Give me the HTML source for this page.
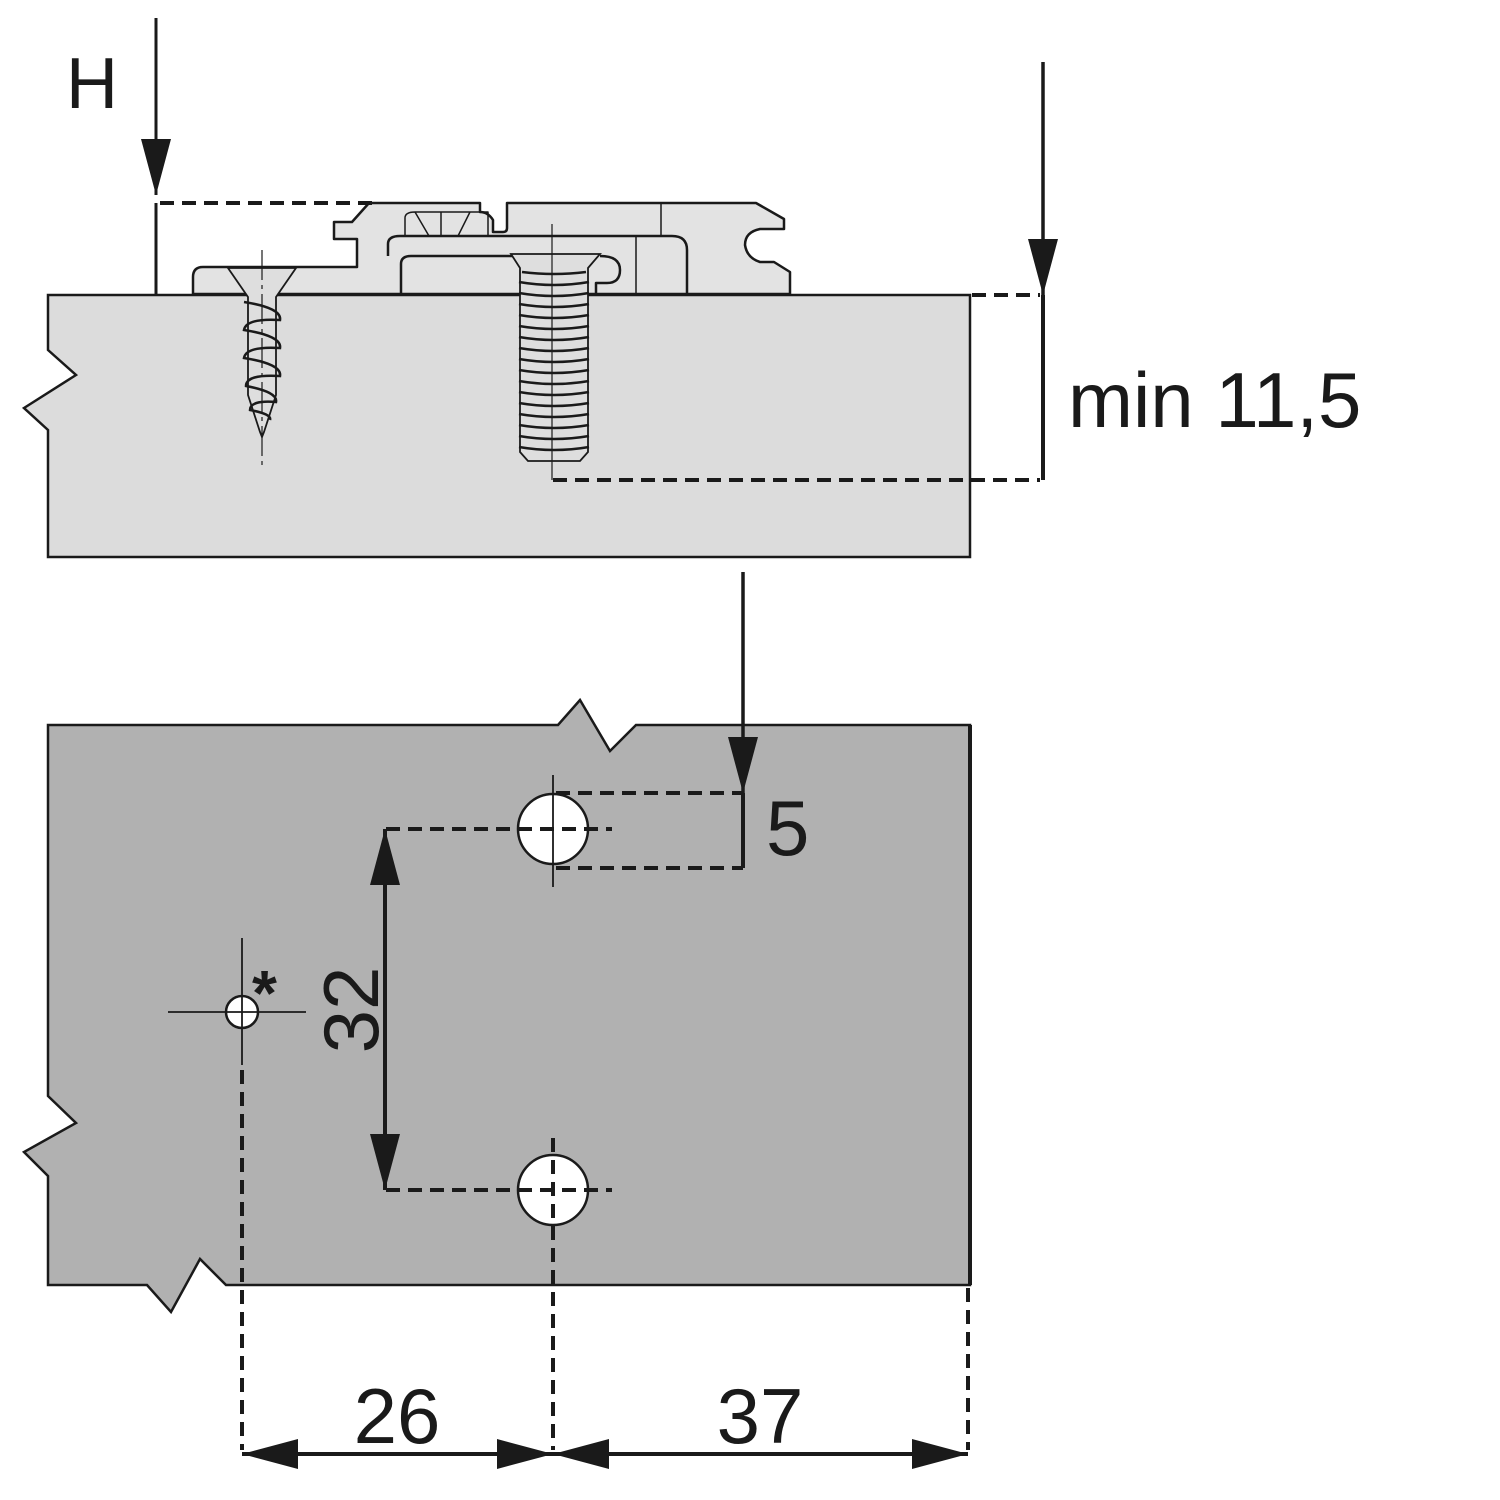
<!DOCTYPE html>
<html><head><meta charset="utf-8"><style>html,body{margin:0;padding:0;background:#fff}svg{display:block}</style></head>
<body>
<svg width="1500" height="1500" viewBox="0 0 1500 1500" xmlns="http://www.w3.org/2000/svg" font-family="Liberation Sans, Arial, sans-serif">
<defs>
<marker id="ah" viewBox="0 0 56 30" refX="56" refY="15" markerWidth="56" markerHeight="30" markerUnits="userSpaceOnUse" orient="auto"><path d="M0,0 L56,15 L0,30 Z" fill="#1a1a1a"/></marker>
</defs>
<path d="M48,295 L970,295 L970,557 L48,557 L48,430 L24,408 L76,375 L48,350 Z" fill="#dcdcdc" stroke="#1a1a1a" stroke-width="2.5"/>
<g fill="#e3e3e3" stroke="#1a1a1a" stroke-width="2.5" stroke-linejoin="round">
<path d="M193,294 L193,277 Q193,267 203,267 L357,267 L357,239 L334,239 L334,222 L352,222 L369,203 L480,203 L480,212 Q488,212 493,220 L493,232 L503,232 Q507,232 507,228 L507,203 L756,203 L784,219 L784,229 L760,229 Q745,232 745,245 Q747,258 760,262 L774,262 L790,272 L790,294 Z"/>
<path d="M401,294 L401,264 Q401,256 411,256 L520,256" fill="none"/>
<path d="M388,256 L388,244 Q388,236 400,236 L672,236 Q687,236 687,250 L687,294" fill="none"/>
<path d="M600,256 Q620,256 620,270 Q620,283 607,283 L596,283 L596,294" fill="none"/>
<path d="M661,203 L661,236 M636,236 L636,294" fill="none" stroke-width="1.5"/>
<path d="M405,236 L405,218 Q405,212 415,212 L488,212 L488,236 M415,212 L429,236 M441,212 L441,236 M470,212 L458,236" fill="none" stroke-width="1.5"/>
</g>
<g stroke="#1a1a1a" fill="#dedede" stroke-width="1.8">
<path d="M228,268 L296,268 L276,297 L276,395 L264,432 L262,437 L260,432 L248,395 L248,297 Z"/>
<g fill="none" stroke-width="2.5">
<path d="M244,302 Q282,308 280,320 Q246,318 244,330 Q282,336 280,348 Q246,346 244,358 Q282,364 280,376 Q246,374 246,386 Q278,392 276,402 Q250,400 250,410 Q272,414 270,420"/>
</g>
<line x1="262" y1="250" x2="262" y2="470" stroke-width="1.2" stroke-dasharray="30,5,4,5"/>
</g>
<g stroke="#1a1a1a" fill="#dedede" stroke-width="1.8">
<path d="M511,254 L600,254 L588,268 L588,452 L580,461 L528,461 L520,452 L520,268 Z"/>
<path fill="none" stroke-width="2.5" d="M522,272 Q554,276 586,272 M519,282 Q554,288 589,282 M519,293 Q554,299 589,293 M519,304 Q554,310 589,304 M519,315 Q554,321 589,315 M519,326 Q554,332 589,326 M519,337 Q554,343 589,337 M519,348 Q554,354 589,348 M519,359 Q554,365 589,359 M519,370 Q554,376 589,370 M519,381 Q554,387 589,381 M519,392 Q554,398 589,392 M519,403 Q554,409 589,403 M519,414 Q554,420 589,414 M519,425 Q554,431 589,425 M519,436 Q554,442 589,436 M519,447 Q554,453 589,447"/>
<line x1="552" y1="224" x2="552" y2="480" stroke-width="1.2"/>
</g>
<text x="66" y="108" font-size="72" fill="#1a1a1a">H</text>
<line x1="156" y1="18" x2="156" y2="195" stroke="#1a1a1a" stroke-width="3" marker-end="url(#ah)"/>
<line x1="156" y1="203" x2="156" y2="295" stroke="#1a1a1a" stroke-width="3"/>
<line x1="160" y1="203" x2="378" y2="203" stroke="#1a1a1a" stroke-width="4" stroke-dasharray="14,8"/>
<line x1="1043" y1="62" x2="1043" y2="295" stroke="#1a1a1a" stroke-width="3.5" marker-end="url(#ah)"/>
<line x1="1043" y1="295" x2="1043" y2="480" stroke="#1a1a1a" stroke-width="4"/>
<line x1="972" y1="295" x2="1040" y2="295" stroke="#1a1a1a" stroke-width="4" stroke-dasharray="14,8"/>
<line x1="553" y1="480" x2="1040" y2="480" stroke="#1a1a1a" stroke-width="4" stroke-dasharray="14,8"/>
<text x="1068" y="427" font-size="78" fill="#1a1a1a">min 11,5</text>
<path d="M48,725 L558,725 L580,700 L610,751 L636,725 L970,725 L970,1285 L226,1285 L200,1259 L171,1312 L147,1285 L48,1285 L48,1176 L24,1152 L76,1123 L48,1096 Z" fill="#b1b1b1" stroke="#1a1a1a" stroke-width="2.5"/>
<line x1="970" y1="725" x2="970" y2="1285" stroke="#1a1a1a" stroke-width="4"/>
<circle cx="553" cy="829" r="35" fill="#fff" stroke="#1a1a1a" stroke-width="2.5"/>
<circle cx="553" cy="1190" r="35" fill="#fff" stroke="#1a1a1a" stroke-width="2.5"/>
<circle cx="242" cy="1012" r="16" fill="#fff" stroke="#1a1a1a" stroke-width="2.5"/>
<g stroke="#1a1a1a" stroke-width="1.8">
<line x1="168" y1="1012" x2="306" y2="1012"/>
<line x1="242" y1="938" x2="242" y2="1065"/>
<line x1="553" y1="775" x2="553" y2="887"/>
</g>
<text x="252" y="1015" font-size="64" font-weight="bold" fill="#1a1a1a">*</text>
<g stroke="#1a1a1a" stroke-width="4" stroke-dasharray="14,8" fill="none">
<line x1="386" y1="829" x2="612" y2="829"/>
<line x1="386" y1="1190" x2="612" y2="1190"/>
<line x1="556" y1="793" x2="743" y2="793"/>
<line x1="556" y1="868" x2="743" y2="868"/>
<line x1="553" y1="1138" x2="553" y2="1450"/>
<line x1="242" y1="1070" x2="242" y2="1450"/>
<line x1="968" y1="1288" x2="968" y2="1450"/>
</g>
<line x1="385" y1="860" x2="385" y2="829" stroke="#1a1a1a" stroke-width="4" marker-end="url(#ah)"/>
<line x1="385" y1="870" x2="385" y2="1190" stroke="#1a1a1a" stroke-width="4" marker-end="url(#ah)"/>
<text transform="translate(378,1010) rotate(-90)" text-anchor="middle" font-size="78" fill="#1a1a1a">32</text>
<line x1="743" y1="572" x2="743" y2="793" stroke="#1a1a1a" stroke-width="3.5" marker-end="url(#ah)"/>
<line x1="743" y1="793" x2="743" y2="868" stroke="#1a1a1a" stroke-width="4"/>
<text x="766" y="855" font-size="78" fill="#1a1a1a">5</text>
<line x1="300" y1="1454" x2="242" y2="1454" stroke="#1a1a1a" stroke-width="4" marker-end="url(#ah)"/>
<line x1="290" y1="1454" x2="553" y2="1454" stroke="#1a1a1a" stroke-width="4" marker-end="url(#ah)"/>
<line x1="620" y1="1454" x2="553" y2="1454" stroke="#1a1a1a" stroke-width="4" marker-end="url(#ah)"/>
<line x1="600" y1="1454" x2="968" y2="1454" stroke="#1a1a1a" stroke-width="4" marker-end="url(#ah)"/>
<text x="397" y="1443" text-anchor="middle" font-size="78" fill="#1a1a1a">26</text>
<text x="760" y="1443" text-anchor="middle" font-size="78" fill="#1a1a1a">37</text>
</svg>
</body></html>
